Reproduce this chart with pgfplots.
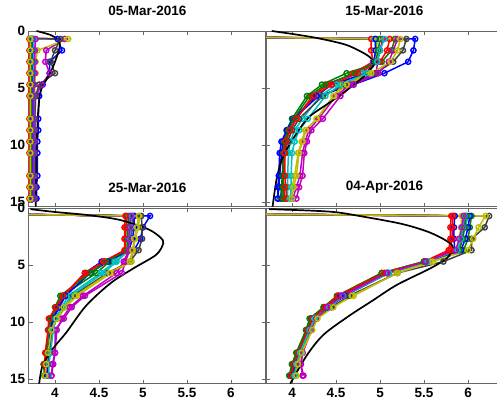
\documentclass[border=0pt]{standalone}
\usepackage{pgfplots}
\pgfplotsset{compat=1.18}
\usepackage{pgfplotstable}
\usepackage{fontspec}
\setmainfont{Liberation Sans}
\definecolor{mb}{rgb}{0,0,1}
\definecolor{mg}{rgb}{0,0.5,0}
\definecolor{mr}{rgb}{1,0,0}
\definecolor{mc}{rgb}{0,0.75,0.75}
\definecolor{mm}{rgb}{0.75,0,0.75}
\definecolor{my}{rgb}{0.75,0.75,0}
\definecolor{mk}{rgb}{0.25,0.25,0.25}

% 05-Mar-2016
\pgfplotstableread{
d    s1   s2   s3   s4    s5   s6   s7   s8   s9   s10   s11  s12  s13
0.55 3.0  3.0  3.0  3.0   3.0  3.0  3.0  3.0  3.0  3.0   3.0  3.0  3.0
0.7  4.03 3.73 3.71 3.745 4.11 4.15 4.06 3.75 3.73 3.715 3.76 3.78 3.72
1.7  4.08 3.73 3.71 3.745 3.90 3.80 4.00 3.75 3.73 3.715 3.76 3.77 3.72
2.7  3.94 3.73 3.71 3.745 3.89 3.78 3.95 3.75 3.73 3.715 3.76 3.77 3.72
3.7  3.94 3.73 3.71 3.745 3.94 3.78 4.00 3.75 3.73 3.715 3.76 3.77 3.72
4.7  3.86 3.73 3.71 3.745 3.85 3.77 3.82 3.75 3.73 3.715 3.76 3.76 3.72
5.7  3.82 3.73 3.71 3.745 3.78 3.77 3.78 3.75 3.73 3.715 3.76 3.76 3.72
7.7  3.81 3.73 3.71 3.745 3.77 3.76 3.77 3.75 3.73 3.715 3.76 3.76 3.72
8.7  3.81 3.73 3.71 3.745 3.77 3.76 3.77 3.75 3.73 3.715 3.76 3.76 3.72
9.7  3.80 3.73 3.71 3.745 3.77 3.76 3.77 3.75 3.73 3.715 3.76 3.76 3.72
10.7 3.80 3.73 3.71 3.745 3.77 3.76 3.77 3.75 3.73 3.715 3.76 3.76 3.72
12.7 3.80 3.73 3.71 3.745 3.77 3.76 3.77 3.75 3.73 3.715 3.76 3.76 3.72
13.7 3.79 3.73 3.71 3.745 3.77 3.76 3.77 3.75 3.73 3.715 3.76 3.76 3.72
14.7 3.79 3.73 3.71 3.745 3.77 3.76 3.77 3.75 3.73 3.715 3.76 3.76 3.72
}\tabA

% 15-Mar-2016
\pgfplotstableread{
d    s1   s2   s3   s4   s5   s6   s7   s8   s9   s10  s11  s12  s13
0.5  3.0  3.0  3.0  3.0  3.0  3.0  3.0  3.0  3.0  3.0  3.0  3.0  3.0
0.7  5.40 5.17 4.90 4.94 5.03 4.97 5.30 4.95 5.00 5.11 5.05 5.20 5.23
1.7  5.38 5.13 4.90 4.95 5.00 4.96 5.26 4.95 4.98 5.08 5.00 5.15 5.20
2.7  5.32 5.02 4.92 4.93 4.97 4.93 5.15 4.93 4.95 5.00 4.97 5.10 5.12
3.7  5.05 4.62 4.70 4.80 4.96 4.88 4.95 4.85 4.72 4.75 4.85 4.98 4.90
4.7  4.70 4.34 4.41 4.51 4.66 4.58 4.60 4.45 4.38 4.45 4.55 4.70 4.62
5.7  4.30 4.17 4.23 4.32 4.50 4.47 4.35 4.28 4.20 4.25 4.38 4.55 4.48
7.7  4.02 4.00 4.05 4.12 4.30 4.28 4.08 4.01 4.02 4.05 4.18 4.35 4.28
8.7  3.95 3.94 3.97 4.03 4.19 4.15 4.00 3.94 3.96 3.98 4.08 4.22 4.16
9.7  3.90 3.91 3.92 3.98 4.15 4.11 3.95 3.88 3.92 3.93 4.03 4.17 4.12
10.7 3.88 3.90 3.90 3.96 4.12 4.07 3.92 3.86 3.91 3.92 4.00 4.14 4.08
12.7 3.86 3.89 3.90 3.95 4.09 4.03 3.90 3.85 3.90 3.92 3.99 4.12 4.05
13.7 3.85 3.88 3.91 3.95 4.05 4.00 3.89 3.84 3.90 3.93 3.99 4.08 4.02
14.7 3.84 3.87 3.92 3.95 4.01 3.98 3.88 3.84 3.90 3.94 3.98 4.05 4.00
}\tabB

% 25-Mar-2016
\pgfplotstableread{
d    s1   s2   s3   s4   s5   s6   s7   s8   s9   s10  s11  s12  s13
0.5  3.0  3.0  3.0  3.0  3.0  3.0  3.0  3.0  3.0  3.0  3.0  3.0  3.0
0.7  5.08 4.90 4.81 4.85 4.88 4.96 4.98 4.90 4.83 4.80 4.87 4.86 4.95
1.7  5.00 4.88 4.81 4.84 4.87 4.95 4.99 4.90 4.83 4.79 4.86 4.85 4.93
2.7  4.97 4.86 4.80 4.83 4.86 4.91 4.99 4.88 4.82 4.79 4.85 4.84 4.90
3.7  4.90 4.83 4.80 4.84 4.85 4.89 4.95 4.84 4.82 4.79 4.84 4.84 4.88
4.7  4.53 4.62 4.56 4.68 4.80 4.87 4.85 4.60 4.58 4.55 4.70 4.78 4.85
5.7  4.34 4.47 4.36 4.52 4.76 4.64 4.60 4.40 4.40 4.34 4.55 4.70 4.62
7.7  4.10 4.08 4.10 4.15 4.34 4.25 4.20 4.12 4.06 4.09 4.18 4.32 4.23
8.7  4.04 4.02 4.02 4.08 4.19 4.12 4.10 4.05 4.00 4.01 4.10 4.17 4.10
9.7  3.97 3.96 3.94 4.00 4.10 4.03 4.02 3.98 3.95 3.93 4.01 4.08 4.02
10.7 3.94 3.94 3.93 3.97 4.00 3.94 3.97 3.95 3.93 3.92 3.98 4.02 3.96
12.7 3.91 3.91 3.89 3.94 4.00 3.92 3.94 3.92 3.90 3.89 3.95 4.00 3.92
13.7 3.90 3.87 3.89 3.92 3.98 3.90 3.92 3.91 3.88 3.88 3.93 3.97 3.90
14.7 3.90 3.88 3.90 3.92 3.96 3.89 3.92 3.91 3.89 3.89 3.93 3.96 3.89
}\tabC

% 04-Apr-2016
\pgfplotstableread{
d    s1   s2   s3   s4   s5   s6   s7   s8   s9   s10  s11  s12  s13
0.5  3.0  3.0  3.0  3.0  3.0  3.0  3.0  3.0  3.0  3.0  3.0  3.0  3.0
0.7  5.85 6.04 5.81 6.00 5.97 5.93 6.24 6.02 5.98 5.83 5.96 5.95 6.20
1.7  5.84 6.02 5.80 5.97 5.95 5.92 6.19 6.00 5.96 5.82 5.94 5.93 6.12
2.7  5.84 6.00 5.80 5.93 5.92 5.90 6.04 5.97 5.94 5.82 5.92 5.90 6.06
3.7  5.85 5.95 5.78 5.90 5.88 5.90 6.04 5.92 5.90 5.80 5.88 5.86 6.00
4.7  5.55 5.50 5.50 5.55 5.52 5.57 5.72 5.53 5.50 5.52 5.54 5.52 5.60
5.7  5.10 5.05 5.02 5.10 5.08 5.19 5.20 5.08 5.02 5.05 5.10 5.08 5.20
7.7  4.60 4.53 4.51 4.58 4.56 4.70 4.65 4.55 4.52 4.53 4.58 4.57 4.68
8.7  4.42 4.36 4.36 4.42 4.40 4.45 4.45 4.38 4.36 4.38 4.42 4.40 4.47
9.7  4.25 4.20 4.22 4.25 4.28 4.28 4.27 4.22 4.21 4.23 4.26 4.28 4.29
10.7 4.19 4.16 4.17 4.20 4.22 4.22 4.20 4.18 4.16 4.18 4.20 4.22 4.23
12.7 4.08 4.05 4.06 4.09 4.12 4.10 4.09 4.07 4.05 4.07 4.09 4.12 4.11
13.7 4.03 4.00 4.01 4.04 4.10 4.06 4.04 4.02 4.00 4.02 4.05 4.10 4.07
14.7 4.00 3.97 3.98 4.02 4.13 4.05 4.02 3.99 3.97 3.99 4.03 4.12 4.05
}\tabD

\pgfplotsset{
  panel/.style={
    scale only axis, width=237.6pt, height=175.6pt,
    xmin=3.7, xmax=6.4, ymin=0, ymax=15.4, y dir=reverse,
    xtick={4,4.5,5,5.5,6}, ytick={0,5,10,15},
    tick align=inside, major tick length=4pt,
    axis line style={black!60, line width=0.6pt},
    tick style={black!60, line width=0.6pt},
    tick label style={font=\fontsize{13.5}{13.5}\selectfont\bfseries},
    /pgf/number format/assume math mode=true,
    title style={font=\fontsize{13.5}{14}\selectfont\bfseries, yshift=5.5pt},
    every axis plot/.append style={line width=1.5pt, mark=o, mark size=2.6pt, mark options={solid, line width=1.4pt}},
    cycle list={{mb},{mg},{mr},{mc},{mm},{my},{mk}},
    xticklabel style={yshift=-1pt},
  },
  blk/.style={black, line width=1.7pt, smooth, mark=none},
}

\begin{document}
\begin{tikzpicture}[x=1pt,y=1pt]
\useasboundingbox (0,0) rectangle (497,403);
\clip (0,0) rectangle (497,403);
% top-left
\begin{axis}[panel, at={(28.6pt,372pt)}, anchor=north west, xticklabels={}, title={05-Mar-2016}]
\pgfplotsinvokeforeach{1,...,13}{\addplot table[x=s#1,y=d]{\tabA};}
\addplot[blk] coordinates {(3.79,0) (3.95,0.35) (4.04,0.8) (4.05,1.5) (3.98,3.1) (3.9,4.3) (3.84,5.2) (3.81,6.9) (3.79,10.4) (3.78,15.4)};
\end{axis}
% top-right
\begin{axis}[panel, at={(265.6pt,372pt)}, anchor=north west, xticklabels={}, yticklabels={}, title={15-Mar-2016}]
\pgfplotsinvokeforeach{1,...,13}{\addplot table[x=s#1,y=d]{\tabB};}
\addplot[blk] coordinates {(3.77,0) (4.03,0.29) (4.3,0.64) (4.62,1.23) (4.85,2.1) (4.93,2.7) (4.92,3.1) (4.77,4.3) (4.47,6.05) (4.2,7.5) (4.05,9.0) (3.9,11.0) (3.83,12.8) (3.79,14.8) (3.78,15.4)};
\end{axis}
% bottom-left
\begin{axis}[panel, at={(28.6pt,195pt)}, anchor=north west, title={25-Mar-2016}]
\pgfplotsinvokeforeach{1,...,13}{\addplot table[x=s#1,y=d]{\tabC};}
\addplot[blk] coordinates {(3.72,0.1) (4.0,0.35) (4.35,0.6) (4.64,0.9) (4.81,1.2) (5.07,1.9) (5.2,2.6) (5.23,3.1) (5.15,4.1) (4.89,5.3) (4.63,6.6) (4.35,8.6) (4.13,10.9) (3.98,12.3) (3.86,13.8) (3.82,15.4)};
\end{axis}
% bottom-right
\begin{axis}[panel, at={(265.6pt,195pt)}, anchor=north west, yticklabels={}, title={04-Apr-2016}]
\pgfplotsinvokeforeach{1,...,13}{\addplot table[x=s#1,y=d]{\tabD};}
\addplot[blk] coordinates {(3.74,0.1) (4.43,0.32) (4.81,0.76) (5.25,1.4) (5.55,2.1) (5.76,2.9) (5.83,3.5) (5.76,4.4) (5.57,5.3) (5.19,6.75) (4.9,8.2) (4.66,9.4) (4.36,11.1) (4.17,12.9) (3.98,15.4)};
\end{axis}
\end{tikzpicture}
\end{document}
